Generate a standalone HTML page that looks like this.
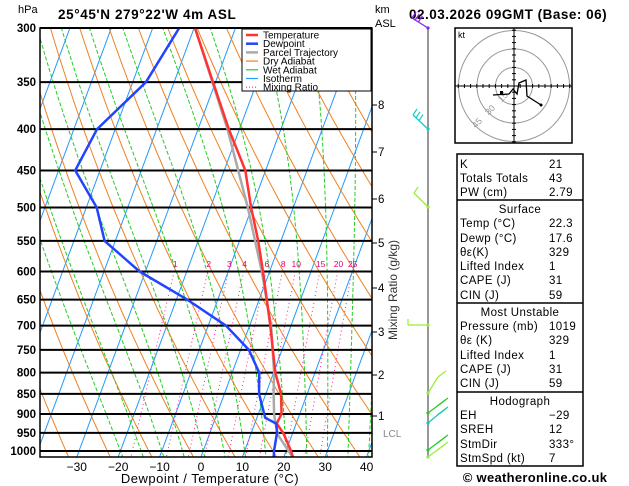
<!DOCTYPE html>
<html><head><meta charset="utf-8"><style>
body{margin:0;background:#fff;width:629px;height:486px;overflow:hidden;font-family:"Liberation Sans",sans-serif}
svg{display:block}
text{font-family:"Liberation Sans",sans-serif}
</style></head><body>
<svg id="c" width="629" height="486" viewBox="0 0 629 486">
<text x="18" y="13" font-size="11">hPa</text>
<text x="58" y="19" font-size="13.5" font-weight="bold" letter-spacing="0.6">25°45'N  279°22'W  4m  ASL</text>
<text x="375" y="13" font-size="11">km</text>
<text x="375" y="27" font-size="11">ASL</text>
<text x="409" y="19" font-size="13.5" font-weight="bold" letter-spacing="0.5">02.03.2026 09GMT (Base: 06)</text>
<g id="plot"></g>
</svg>
<script>
const pressures=[300,350,400,450,500,550,600,650,700,750,800,850,900,950,1000];
const xTicks=[-30,-20,-10,0,10,20,30,40];
const tempP=[1019,1000,950,925,900,850,800,700,600,550,500,450,400,350,300];
const tempT=[22.3,21.2,17.7,15.3,15.6,13.7,10.4,5.0,-1.6,-5.5,-10.2,-14.9,-22.6,-30.6,-39.8];
const dewP=[1019,1000,950,925,910,850,800,750,700,650,600,550,500,450,400,350,300];
const dewT=[17.6,17.1,16.2,15.2,12.0,8.4,6.5,2.0,-5.7,-17.4,-31.4,-42.6,-47.5,-56,-54.4,-46.8,-43.6];
const parP=[1019,1000,955,925,900,850,800,700,600,500,400,300];
const parT=[22.3,20.6,16.6,15.0,13.8,11.9,10.1,5.2,-1.9,-11.0,-22.9,-39.8];
const mixVals=[1,2,3,4,6,8,10,15,20,25];
const kmVals=[1,2,3,4,5,6,7,8];
const kmY=[416,375,332,288,243,199,152,105];

const NS="http://www.w3.org/2000/svg";
const L=40,R=372,T=28,B=457;
function yP(p){return 28+351.3*Math.log(p/300);}
function xT(t,y){return 201+4.14*t+0.37*(B-y);}
const g=document.getElementById('plot');
function el(tag,attrs,parent){const e=document.createElementNS(NS,tag);for(const k in attrs)e.setAttribute(k,attrs[k]);(parent||g).appendChild(e);return e;}
const defs=el('defs',{});
const cp=el('clipPath',{id:'clip'},defs);el('rect',{x:L,y:T,width:R-L,height:B-T},cp);
const lines=el('g',{'clip-path':'url(#clip)'});


function pathFrom(fn,p0,p1,step){let d='';for(let p=p0;p<=p1;p+=step){const t=fn(p);if(t===null)continue;const y=yP(p);d+=(d?'L':'M')+xT(t,y).toFixed(1)+' '+y.toFixed(1);}return d;}
// isotherms
for(let t=-110;t<=50;t+=10){const e=el('path',{d:pathFrom(()=>t,250,1100,50),stroke:'#2299ff',fill:'none','stroke-width':1},lines);}
// dry adiabats
for(let th=240;th<=480;th+=10){const e=el('path',{d:pathFrom(p=>th*Math.pow(p/1000,0.286)-273.15,250,1100,10),stroke:'#f08020',fill:'none','stroke-width':1},lines);}
// wet adiabats
function es(t){return 6.112*Math.exp(17.67*t/(t+243.5));}
for(let tw=-20;tw<=40;tw+=5){
  let t=tw+273.15,pts=[];
  // go down to 1100
  let tt=t;for(let p=1000;p<=1100;p+=5){pts.push([p,tt-273.15]);const rs=0.622*es(tt-273.15)/(p-es(tt-273.15));const dT=(287*tt+2.5e6*rs)/(p*(1004+2.5e6*2.5e6*rs*0.622/(287*tt*tt)));tt+=dT*5;}
  tt=t;let up=[];for(let p=1000;p>=250;p-=5){up.push([p,tt-273.15]);const rs=0.622*es(tt-273.15)/(p-es(tt-273.15));const dT=(287*tt+2.5e6*rs)/(p*(1004+2.5e6*2.5e6*rs*0.622/(287*tt*tt)));tt-=dT*5;}
  const all=up.reverse().concat(pts.slice(1));
  let d='';all.forEach((q,i)=>{const y=yP(q[0]);d+=(i?'L':'M')+xT(q[1],y).toFixed(1)+' '+y.toFixed(1);});
  const e=el('path',{d:d,stroke:'#22cc22',fill:'none','stroke-width':1,'stroke-dasharray':'4,2'},lines);
  
}
// mixing ratio
function tdFromW(w,p){const e=w*p/(622+w);const a=Math.log(e/6.112);return 243.5*a/(17.67-a);}
mixVals.forEach(w=>{const e=el('path',{d:pathFrom(p=>tdFromW(w,p),600,1100,10),stroke:'#ff2299',fill:'none','stroke-width':1,'stroke-dasharray':'1,3'},lines);
 const y=267;const x=xT(tdFromW(w,592),y);const tx=el('text',{x:x,y:y,'font-size':8.5,fill:'#e0007a','text-anchor':'middle'});tx.textContent=w;});
// pressure lines
pressures.forEach(p=>{const y=yP(p);const e=el('line',{x1:L,x2:R,y1:y,y2:y,stroke:'#000','stroke-width':2});
 const t=el('text',{x:36,y:y+4,'font-size':11.5,'font-weight':'bold','text-anchor':'end'});t.textContent=p;});
// profiles
function prof(P,Tv,col,w,name){let d='';P.forEach((p,i)=>{const y=yP(p);d+=(i?'L':'M')+xT(Tv[i],y).toFixed(1)+' '+y.toFixed(1);});const e=el('path',{d:d,stroke:col,fill:'none','stroke-width':w,'stroke-linejoin':'round','clip-path':'url(#clip)'});}
prof(parP,parT,'#aaaaaa',2.5,'parcel-trajectory');
prof(tempP,tempT,'#ff3333',2.5,'temperature-line');
prof(dewP,dewT,'#2244ff',2.5,'dewpoint-line');
// frame
const fr=el('rect',{x:L,y:T,width:R-L,height:B-T,fill:'none',stroke:'#000','stroke-width':1.5});
// x ticks
xTicks.forEach(t=>{const x=xT(t,B);const tx=el('text',{x:x,y:471,'font-size':12,'text-anchor':'middle'});tx.textContent=(t<0?'\u2212'+(-t):t);});
const xt=el('text',{x:210,y:483,'font-size':13,'text-anchor':'middle','letter-spacing':'0.5'});xt.textContent='Dewpoint / Temperature (°C)';
// km labels
kmVals.forEach((k,i)=>{el('line',{x1:372,x2:377,y1:kmY[i],y2:kmY[i],stroke:'#000'});const t=el('text',{x:378,y:kmY[i]+4,'font-size':11.5});t.textContent=k;});
const lcl=el('text',{x:383,y:437,'font-size':10,fill:'#888'});lcl.textContent='LCL';
const mr=el('text',{x:0,y:0,'font-size':12,transform:'translate(397,290) rotate(-90)','text-anchor':'middle',fill:'#333'});mr.textContent='Mixing Ratio (g/kg)';
// legend
const lg=el('g',{});
el('rect',{x:242,y:29,width:129,height:62,fill:'#fff',stroke:'#000'},lg);
[['Temperature','#ff3333',0],['Dewpoint','#2244ff',0],['Parcel Trajectory','#aaaaaa',0],['Dry Adiabat','#f08020',0],['Wet Adiabat','#22cc22',0],['Isotherm','#2299ff',0],['Mixing Ratio','#ff2299',1]].forEach((r,i)=>{const y=35+i*8.7;el('line',{x1:246,x2:258,y1:y,y2:y,stroke:r[1],'stroke-width':r[2]?1.2:(i<3?2.5:1.2),'stroke-dasharray':r[2]?'1,2':''},lg);const t=el('text',{x:263,y:y+3.5,'font-size':10},lg);t.textContent=r[0];});
// wind barbs
const wb=el('g',{});
el('line',{x1:428,x2:428,y1:28,y2:457,stroke:'#777','stroke-width':1.5},wb);
const barbs=[[28,412,18,'#8822ee',3],[129,413,115,'#11cccc',3],[207,414,193,'#99ee33',1],[325,408,325,'#99ee33',1],[393,438,377,'#99ee33',1],[413,440,404,'#22cc22',2],[423,440,413,'#11ccaa',2],[450,440,441,'#22cc22',2],[457,440,448,'#99ee33',2]];
barbs.forEach(b=>{const[y,x2,y2,c,n]=b;el('line',{x1:428,y1:y,x2:x2,y2:y2,stroke:c,'stroke-width':1.3},wb);el('circle',{cx:428,cy:y,r:1.6,fill:c},wb);for(let k=0;k<n;k++){const f=k*0.2;const bx=x2+(428-x2)*f,by=y2+(y-y2)*f;el('line',{x1:bx,y1:by,x2:bx+(y2<y?4:0)+(x2>428?4:0),y2:by-6,stroke:c,'stroke-width':1.2},wb);}});
// hodograph
const hg=el('g',{});
const hc=el('clipPath',{id:'hclip'},defs);el('rect',{x:455,y:28,width:117,height:115},hc);
el('rect',{x:455,y:28,width:117,height:115,fill:'#fff',stroke:'#000','stroke-width':1.5},hg);
const hcx=514,hcy=86;
const hgc=el('g',{'clip-path':'url(#hclip)'},hg);
[18.5,37,55.5].forEach(r=>el('circle',{cx:hcx,cy:hcy,r:r,fill:'none',stroke:'#999'},hgc));
el('line',{x1:455,x2:572,y1:hcy,y2:hcy,stroke:'#000'},hg);el('line',{x1:hcx,x2:hcx,y1:28,y2:143,stroke:'#000'},hg);
for(let i=-9;i<=9;i++){if(!i)continue;el('line',{x1:hcx+i*6.2,x2:hcx+i*6.2,y1:hcy-2,y2:hcy+2,stroke:'#000'},hg);el('line',{y1:hcy+i*6.2,y2:hcy+i*6.2,x1:hcx-2,x2:hcx+2,stroke:'#000'},hg);}
[['15',11],['30',24],['45',37]].forEach(a=>{const t=el('text',{x:hcx-a[1],y:hcy+a[1]+3,'font-size':9,fill:'#999',transform:`rotate(-45 ${hcx-a[1]} ${hcy+a[1]})`,'text-anchor':'middle'},hg);t.textContent=a[0];});
const kt=el('text',{x:458,y:38,'font-size':9},hg);kt.textContent='kt';
el('polyline',{points:'493,95 509,94 513,89 517,94 519,83 526,80 527,96 541,105',fill:'none',stroke:'#000','stroke-width':1.3},hg);
el('rect',{x:500,y:91,width:3,height:3,fill:'#000'},hg);el('circle',{cx:541,cy:105,r:1.5,fill:'#000'},hg);
// table
const tb=el('g',{});
el('rect',{x:457,y:154,width:126,height:312,fill:'#fff',stroke:'#000','stroke-width':1.5},tb);
[200,303,392].forEach(y=>el('line',{x1:457,x2:583,y1:y,y2:y,stroke:'#000','stroke-width':1.5},tb));
const rows=[['K','21',164],['Totals Totals','43',178],['PW (cm)','2.79',192],['#Surface','',209],['Temp (°C)','22.3',223],['Dewp (°C)','17.6',238],['θε(K)','329',252],['Lifted Index','1',266],['CAPE (J)','31',280],['CIN (J)','59',295],['#Most Unstable','',312],['Pressure (mb)','1019',326],['θε (K)','329',340],['Lifted Index','1',355],['CAPE (J)','31',369],['CIN (J)','59',383],['#Hodograph','',401],['EH','\u221229',415],['SREH','12',429],['StmDir','333°',444],['StmSpd (kt)','7',458]];
rows.forEach(r=>{if(r[0][0]==='#'){const t=el('text',{x:520,y:r[2]+4,'font-size':11.5,'text-anchor':'middle','letter-spacing':'0.4'},tb);t.textContent=r[0].slice(1);}else{const t=el('text',{x:460,y:r[2]+4,'font-size':11.5,'letter-spacing':'0.4'},tb);t.textContent=r[0];const v=el('text',{x:549,y:r[2]+4,'font-size':11.5,'letter-spacing':'0.4'},tb);v.textContent=r[1];}});
const cr=el('text',{x:535,y:482,'font-size':13,'font-weight':'bold','text-anchor':'middle','letter-spacing':'0.3'});cr.textContent='© weatheronline.co.uk';
</script>
</body></html>
